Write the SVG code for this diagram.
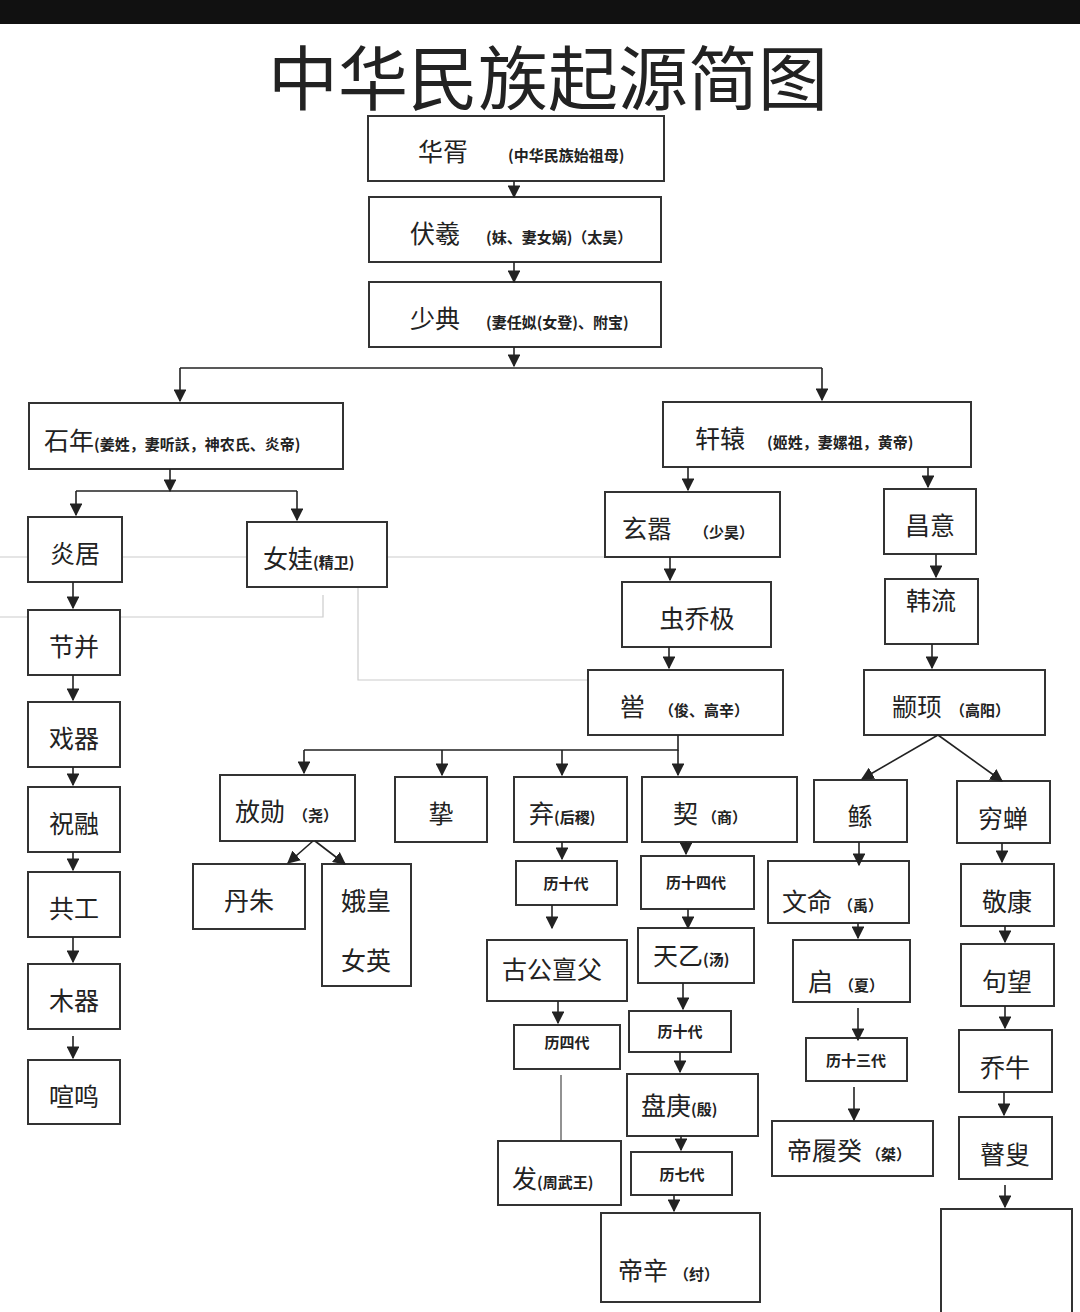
<svg xmlns="http://www.w3.org/2000/svg" width="1080" height="1312" viewBox="0 0 1080 1312">
<style>
.b{fill:#fff;stroke:#333;stroke-width:2}
.t{font-family:"Noto Sans CJK SC","Noto Sans CJK JP",sans-serif;font-size:25px;fill:#222}
.s{font-size:15px;font-weight:bold}
.c{stroke:#222;stroke-width:1.6;fill:none}
.g{stroke:#ccc;stroke-width:1.2;fill:none}
</style>
<defs><marker id="a" viewBox="0 0 10 10" refX="9" refY="5" markerWidth="8" markerHeight="8" orient="auto"><path d="M0,0L10,5L0,10z" fill="#222"/></marker></defs>
<rect width="1080" height="1312" fill="#fff"/>
<rect width="1080" height="24" fill="#111"/>
<text x="548" y="105" text-anchor="middle" font-family="Noto Sans CJK SC,sans-serif" font-size="70" fill="#222">中华民族起源简图</text>
<g id="faint" class="g">
<path d="M0,557H28M122,557H247M387,557H620M0,617H323V595M358,587V680H588"/>
</g>
<g id="n1"><rect class="b" x="368" y="116" width="296" height="65"/><text class="t" x="418" y="161">华胥<tspan class="s" dx="40">(中华民族始祖母)</tspan></text></g>
<g id="n2"><rect class="b" x="369" y="197" width="292" height="65"/><text class="t" x="410" y="243">伏羲<tspan class="s" dx="26">(妹、妻女娲)（太昊）</tspan></text></g>
<g id="n3"><rect class="b" x="369" y="282" width="292" height="65"/><text class="t" x="410" y="328">少典<tspan class="s" dx="26">(妻任姒(女登)、附宝)</tspan></text></g>
<g id="n4"><rect class="b" x="29" y="403" width="314" height="66"/><text class="t" x="44" y="450">石年<tspan class="s">(姜姓，妻听訞，神农氏、炎帝)</tspan></text></g>
<g id="n5"><rect class="b" x="663" y="402" width="308" height="65"/><text class="t" x="695" y="448">轩辕<tspan class="s" dx="22">(姬姓，妻嫘祖，黄帝)</tspan></text></g>
<g id="n6"><rect class="b" x="28" y="517" width="94" height="65"/><text class="t" x="75" y="563" text-anchor="middle">炎居</text></g>
<g id="n7"><rect class="b" x="247" y="522" width="140" height="65"/><text class="t" x="263" y="568">女娃<tspan class="s">(精卫)</tspan></text></g>
<g id="n8"><rect class="b" x="28" y="610" width="92" height="65"/><text class="t" x="74" y="656" text-anchor="middle">节并</text></g>
<g id="n9"><rect class="b" x="28" y="702" width="92" height="65"/><text class="t" x="74" y="748" text-anchor="middle">戏器</text></g>
<g id="n10"><rect class="b" x="28" y="787" width="92" height="65"/><text class="t" x="74" y="833" text-anchor="middle">祝融</text></g>
<g id="n11"><rect class="b" x="28" y="872" width="92" height="65"/><text class="t" x="74" y="918" text-anchor="middle">共工</text></g>
<g id="n12"><rect class="b" x="28" y="964" width="92" height="65"/><text class="t" x="74" y="1010" text-anchor="middle">木器</text></g>
<g id="n13"><rect class="b" x="28" y="1060" width="92" height="64"/><text class="t" x="74" y="1106" text-anchor="middle">喧鸣</text></g>
<g id="n14"><rect class="b" x="605" y="492" width="175" height="65"/><text class="t" x="622" y="538">玄嚣<tspan class="s" dx="22">（少昊）</tspan></text></g>
<g id="n15"><rect class="b" x="884" y="489" width="92" height="65"/><text class="t" x="930" y="535" text-anchor="middle">昌意</text></g>
<g id="n16"><rect class="b" x="622" y="582" width="149" height="65"/><text class="t" x="697" y="628" text-anchor="middle">虫乔极</text></g>
<g id="n17"><rect class="b" x="885" y="579" width="93" height="65"/><text class="t" x="931" y="610" text-anchor="middle">韩流</text></g>
<g id="n18"><rect class="b" x="588" y="670" width="195" height="65"/><text class="t" x="620" y="716">喾<tspan class="s" dx="14">（俊、高辛）</tspan></text></g>
<g id="n19"><rect class="b" x="864" y="670" width="181" height="65"/><text class="t" x="892" y="716">颛顼<tspan class="s" dx="8">（高阳）</tspan></text></g>
<g id="n20"><rect class="b" x="220" y="775" width="135" height="66"/><text class="t" x="235" y="821">放勋<tspan class="s" dx="8">（尧）</tspan></text></g>
<g id="n21"><rect class="b" x="395" y="777" width="92" height="65"/><text class="t" x="441" y="823" text-anchor="middle">挚</text></g>
<g id="n22"><rect class="b" x="514" y="777" width="113" height="65"/><text class="t" x="529" y="823">弃<tspan class="s">(后稷)</tspan></text></g>
<g id="n23"><rect class="b" x="642" y="777" width="155" height="65"/><text class="t" x="673" y="823">契<tspan class="s" dx="4">（商）</tspan></text></g>
<g id="n24"><rect class="b" x="193" y="864" width="112" height="65"/><text class="t" x="249" y="910" text-anchor="middle">丹朱</text></g>
<g id="n25"><rect class="b" x="322" y="864" width="89" height="122"/><text class="t" x="366" y="910" text-anchor="middle">娥皇</text><text class="t" x="366" y="970" text-anchor="middle">女英</text></g>
<g id="n26"><rect class="b" x="516" y="861" width="101" height="44"/><text class="t s" x="566" y="889" text-anchor="middle">历十代</text></g>
<g id="n27"><rect class="b" x="487" y="940" width="140" height="61"/><text class="t" x="552" y="979" text-anchor="middle">古公亶父</text></g>
<g id="n28"><rect class="b" x="514" y="1025" width="106" height="44"/><text class="t s" x="567" y="1048" text-anchor="middle">历四代</text></g>
<g id="n29"><rect class="b" x="498" y="1141" width="123" height="64"/><text class="t" x="512" y="1188">发<tspan class="s">(周武王)</tspan></text></g>
<g id="n30"><rect class="b" x="641" y="856" width="113" height="53"/><text class="t s" x="696" y="888" text-anchor="middle">历十四代</text></g>
<g id="n31"><rect class="b" x="638" y="928" width="116" height="55"/><text class="t" x="653" y="965">天乙<tspan class="s">(汤)</tspan></text></g>
<g id="n32"><rect class="b" x="629" y="1011" width="102" height="41"/><text class="t s" x="680" y="1037" text-anchor="middle">历十代</text></g>
<g id="n33"><rect class="b" x="627" y="1074" width="131" height="62"/><text class="t" x="641" y="1115">盘庚<tspan class="s">(殷)</tspan></text></g>
<g id="n34"><rect class="b" x="631" y="1152" width="101" height="43"/><text class="t s" x="682" y="1180" text-anchor="middle">历七代</text></g>
<g id="n35"><rect class="b" x="601" y="1213" width="159" height="89"/><text class="t" x="618" y="1280">帝辛<tspan class="s" dx="6">（纣）</tspan></text></g>
<g id="n36"><rect class="b" x="814" y="780" width="93" height="62"/><text class="t" x="860" y="826" text-anchor="middle">鲧</text></g>
<g id="n37"><rect class="b" x="768" y="861" width="141" height="62"/><text class="t" x="782" y="911">文命<tspan class="s" dx="6">（禹）</tspan></text></g>
<g id="n38"><rect class="b" x="793" y="940" width="117" height="62"/><text class="t" x="808" y="991">启<tspan class="s" dx="6">（夏）</tspan></text></g>
<g id="n39"><rect class="b" x="806" y="1038" width="101" height="43"/><text class="t s" x="856" y="1066" text-anchor="middle">历十三代</text></g>
<g id="n40"><rect class="b" x="772" y="1121" width="161" height="55"/><text class="t" x="787" y="1160">帝履癸<tspan class="s" dx="4">（桀）</tspan></text></g>
<g id="n41"><rect class="b" x="957" y="781" width="93" height="62"/><text class="t" x="1003" y="828" text-anchor="middle">穷蝉</text></g>
<g id="n42"><rect class="b" x="961" y="864" width="93" height="62"/><text class="t" x="1007" y="911" text-anchor="middle">敬康</text></g>
<g id="n43"><rect class="b" x="961" y="944" width="93" height="62"/><text class="t" x="1007" y="991" text-anchor="middle">句望</text></g>
<g id="n44"><rect class="b" x="959" y="1030" width="93" height="62"/><text class="t" x="1005" y="1077" text-anchor="middle">乔牛</text></g>
<g id="n45"><rect class="b" x="959" y="1117" width="93" height="62"/><text class="t" x="1005" y="1164" text-anchor="middle">瞽叟</text></g>
<g id="n46"><rect class="b" x="941" y="1209" width="131" height="110"/></g>
<g id="connectors" class="c">
<path d="M514,181V197" marker-end="url(#a)"/>
<path d="M514,262V282" marker-end="url(#a)"/>
<path d="M514,347V366" marker-end="url(#a)"/>
<path d="M180,368H822"/>
<path d="M180,368V401" marker-end="url(#a)"/>
<path d="M822,368V400" marker-end="url(#a)"/>
<path d="M170,469V491" marker-end="url(#a)"/>
<path d="M76,491H297"/>
<path d="M76,491V515" marker-end="url(#a)"/>
<path d="M297,491V520" marker-end="url(#a)"/>
<path d="M73,582V608" marker-end="url(#a)"/>
<path d="M73,675V700" marker-end="url(#a)"/>
<path d="M73,767V785" marker-end="url(#a)"/>
<path d="M73,852V870" marker-end="url(#a)"/>
<path d="M73,937V962" marker-end="url(#a)"/>
<path d="M73,1036V1058" marker-end="url(#a)"/>
<path d="M688,467V490" marker-end="url(#a)"/>
<path d="M928,467V487" marker-end="url(#a)"/>
<path d="M670,557V580" marker-end="url(#a)"/>
<path d="M936,554V577" marker-end="url(#a)"/>
<path d="M669,647V668" marker-end="url(#a)"/>
<path d="M932,644V668" marker-end="url(#a)"/>
<path d="M678,735V750H304"/>
<path d="M304,750V773" marker-end="url(#a)"/>
<path d="M442,750V775" marker-end="url(#a)"/>
<path d="M562,750V775" marker-end="url(#a)"/>
<path d="M678,750V775" marker-end="url(#a)"/>
<path d="M313,841L288,863" marker-end="url(#a)"/>
<path d="M315,841L345,864" marker-end="url(#a)"/>
<path d="M562,842V859" marker-end="url(#a)"/>
<path d="M552,905V928" marker-end="url(#a)"/>
<path d="M558,1001V1023" marker-end="url(#a)"/>
<path d="M686,842V854" marker-end="url(#a)"/>
<path d="M688,909V928" marker-end="url(#a)"/>
<path d="M683,983V1009" marker-end="url(#a)"/>
<path d="M680,1052V1072" marker-end="url(#a)"/>
<path d="M681,1136V1150" marker-end="url(#a)"/>
<path d="M674,1195V1211" marker-end="url(#a)"/>
<path d="M561,1075V1140" stroke="#777"/>
<path d="M938,735L862,779" marker-end="url(#a)"/>
<path d="M938,735L1002,781" marker-end="url(#a)"/>
<path d="M859,842V865" marker-end="url(#a)"/>
<path d="M858,923V938" marker-end="url(#a)"/>
<path d="M858,1008V1040" marker-end="url(#a)"/>
<path d="M854,1087V1120" marker-end="url(#a)"/>
<path d="M1002,843V862" marker-end="url(#a)"/>
<path d="M1005,926V942" marker-end="url(#a)"/>
<path d="M1005,1006V1028" marker-end="url(#a)"/>
<path d="M1004,1092V1115" marker-end="url(#a)"/>
<path d="M1005,1185V1207" marker-end="url(#a)"/>
</g>
</svg>
